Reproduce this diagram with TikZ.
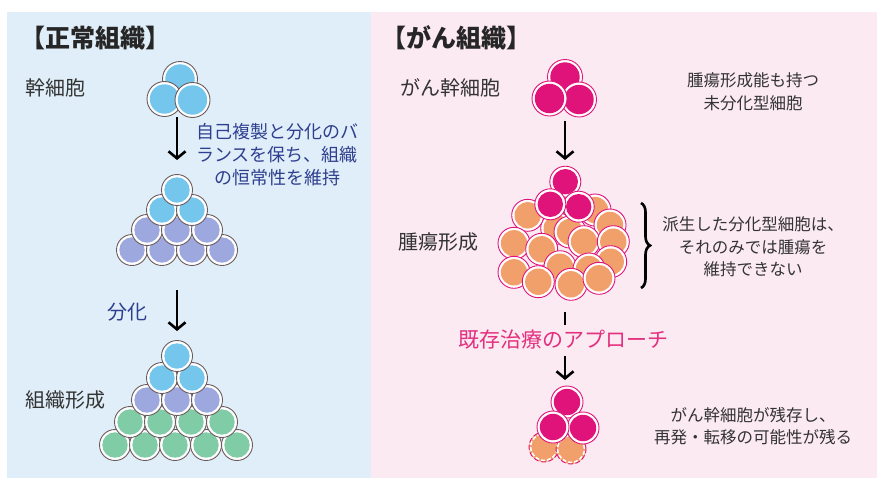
\documentclass[tikz,border=0pt]{standalone}
\usepackage{fontspec}
\setmainfont{Noto Sans CJK JP}
\usetikzlibrary{arrows.meta,decorations.pathreplacing}

\definecolor{bgblue}{HTML}{DFEEF8}
\definecolor{bgpink}{HTML}{FCEAF2}
\definecolor{sky}{HTML}{74C6ED}
\definecolor{lav}{HTML}{9CA8DE}
\definecolor{mint}{HTML}{80CCA6}
\definecolor{mag}{HTML}{E0137A}
\definecolor{peach}{HTML}{F1A06B}
\definecolor{rimgray}{HTML}{6A5C5E}
\definecolor{navy}{HTML}{2F3F8F}
\definecolor{ink}{HTML}{333333}
\definecolor{magtext}{HTML}{E3307F}

% one cell: thin outline, white rim, coloured core
\newcommand\cellat[4][15.5]{% radius, core colour, outline colour, centre
  \filldraw[white, draw=#3, line width=0.9pt] (#4) circle[radius=#1pt];
  \fill[#2] (#4) circle[radius=#1pt-2.8pt];}
% a fading cell with a broken outline
\newcommand\ghostcellat[2][15]{%
  \fill[peach] (#2) circle[radius=#1pt];
  \draw[white, line width=1.6pt, dash pattern=on 4pt off 2pt] (#2) circle[radius=#1pt-1.6pt];
  \draw[mag, line width=0.9pt, dash pattern=on 5pt off 2.5pt] (#2) circle[radius=#1pt];}

\tikzset{
  heading/.style={font=\bfseries\fontsize{25}{30}\selectfont, text=black!85, inner sep=0pt},
  tagtext/.style={font=\fontsize{20}{24}\selectfont, text=ink, inner sep=0pt},
  sidetext/.style={font=\fontsize{16.5}{22.5}\selectfont, text=ink, align=center, inner sep=0pt},
  bluetext/.style={font=\fontsize{18}{23}\selectfont, text=navy, align=center, inner sep=0pt},
  treattext/.style={font=\fontsize{21}{25}\selectfont, text=magtext, inner sep=0pt},
  flow/.style={line width=2.6pt, black, -{Straight Barb[length=7pt,width=17pt]}},
  stub/.style={line width=2.6pt, black},
  bracket/.style={line width=2.6pt, black, decorate, decoration={brace, amplitude=9pt}},
}

\begin{document}
\begin{tikzpicture}[x=1pt, y=-1pt]
\useasboundingbox (0,0) rectangle (882,485);
\fill[white] (0,0) rectangle (882,485);
\fill[bgblue] (7,12) rectangle (371,478);
\fill[bgpink] (371,12) rectangle (877,478);

% ---------- normal tissue ----------
\node[heading] (tn) at (95,38) {【正常組織】};
\node[tagtext] (nstem) at (55,88) {幹細胞};

\cellat[17.5]{sky}{rimgray}{180,79}
\cellat[17.5]{sky}{rimgray}{164.5,99}
\cellat[17.5]{sky}{rimgray}{192.5,100}

\coordinate (la1) at (177,117);
\coordinate (la2) at (177,160);
\draw[flow] (la1) -- (la2);
\node[bluetext] (nbal) at (277,155) {自己複製と分化のバ\\ランスを保ち、組織\\の恒常性を維持};

% pyramid after self-renewal
\foreach \x in {132,162,192,222} {\cellat{lav}{rimgray}{\x,250}}
\foreach \x in {147,177,207} {\cellat{lav}{rimgray}{\x,230}}
\foreach \x in {162,192} {\cellat{sky}{rimgray}{\x,210}}
\cellat{sky}{rimgray}{177,190}

\coordinate (lb1) at (177,290);
\coordinate (lb2) at (177,331);
\draw[flow] (lb1) -- (lb2);
\node[tagtext, text=navy] (ndiff) at (127,312) {分化};

% differentiated tissue
\node[tagtext] (ntissue) at (65,400) {組織形成};
\foreach \x in {115,145,175,206,237} {\cellat{mint}{rimgray}{\x,445}}
\foreach \x in {130,160,191,222} {\cellat{mint}{rimgray}{\x,422}}
\foreach \x in {147,177,207} {\cellat{lav}{rimgray}{\x,400}}
\foreach \x in {162,192} {\cellat{sky}{rimgray}{\x,378}}
\cellat{sky}{rimgray}{177,356}

% ---------- cancer tissue ----------
\node[heading] (tc) at (456,38) {【がん組織】};
\node[tagtext] (cstem) at (450,88) {がん幹細胞};
\node[sidetext] (cundiff) at (753,92) {腫瘍形成能も持つ\\未分化型細胞};

\cellat[17.5]{mag}{mag}{565,77}
\cellat[17.5]{mag}{mag}{579,99.5}
\cellat[17.5]{mag}{mag}{549.5,98.5}

\coordinate (ra1) at (565,121);
\coordinate (ra2) at (565,160);
\draw[flow] (ra1) -- (ra2);

% tumour mass
\node[tagtext] (ctumor) at (438,242) {腫瘍形成};
\foreach \p in {{556.7,228.3},{570,232},{595,210},{610,225},
                {527.7,215.3},{514,243.3},{541.7,249.3},{584,241.7},{613.3,241.7},
                {514,272.3},{560,266.7},{610.7,261.7},{589,269},{538.3,281.7},
                {571,284.3},{599,278.3}}
  {\cellat[16]{peach}{mag}{\p}}
\cellat{mag}{mag}{565.3,181.7}
\cellat{mag}{mag}{578.7,206.7}
\cellat{mag}{mag}{550.3,204.3}

\coordinate (bt) at (641,203);
\coordinate (bb) at (641,288);
\draw[bracket] (bt) -- (bb);
\node[sidetext] (cderiv) at (753,247) {派生した分化型細胞は、\\それのみでは腫瘍を\\維持できない};

% conventional therapy
\coordinate (rt1) at (565,312);
\coordinate (rt2) at (565,325);
\draw[stub] (rt1) -- (rt2);
\node[treattext] (ctreat) at (563,340) {既存治療のアプローチ};
\coordinate (rb1) at (565,356);
\coordinate (rb2) at (565,380);
\draw[flow] (rb1) -- (rb2);

% what survives
\ghostcellat{544,447}
\ghostcellat{571,449}
\cellat[16]{mag}{mag}{567,402}
\cellat[16]{mag}{mag}{583,428}
\cellat[16]{mag}{mag}{553,427}
\node[sidetext] (cresid) at (753,426) {がん幹細胞が残存し、\\再発・転移の可能性が残る};
\end{tikzpicture}
\end{document}
